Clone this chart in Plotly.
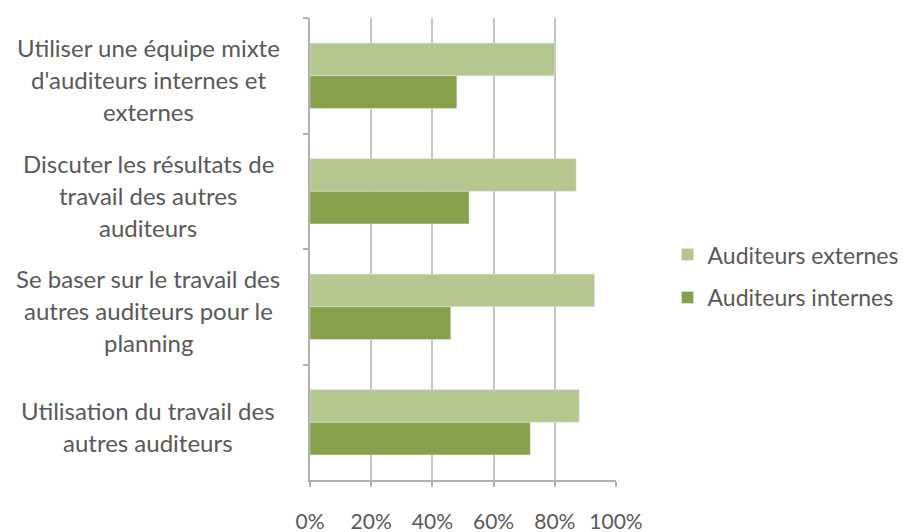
import plotly.graph_objects as go

categories = [
    "Utiliser une équipe mixte<br>d'auditeurs internes et<br>externes",
    "Discuter les résultats de<br>travail des autres<br>auditeurs",
    "Se baser sur le travail des<br>autres auditeurs pour le<br>planning",
    "Utilisation du travail des<br>autres auditeurs",
]
externes = [0.80, 0.87, 0.93, 0.88]
internes = [0.48, 0.52, 0.46, 0.72]
x_ticks = [0, 0.2, 0.4, 0.6, 0.8, 1.0]
x_ticktext = ["0%", "20%", "40%", "60%", "80%", "100%"]

FONT = "Lato"
TXT = "#595959"
FS = 24

fig = go.Figure()
fig.add_trace(go.Bar(y=categories, x=externes, orientation="h",
                     name="Auditeurs externes", marker_color="#b3c78f",
                     legendgroup="ext"))
fig.add_trace(go.Bar(y=categories, x=internes, orientation="h",
                     name="Auditeurs internes", marker_color="#87a04a",
                     legendgroup="int"))

# category labels: centered, one annotation per line for Excel-like spacing
line_h = 32
for cat in categories:
    lines = cat.split("<br>")
    n = len(lines)
    for i, ln in enumerate(lines):
        fig.add_annotation(
            x=-0.529, xref="paper", y=cat, yref="y",
            text=ln, showarrow=False, xanchor="center", yanchor="middle",
            yshift=((n - 1) / 2 - i) * line_h - 4,
            font=dict(family=FONT, size=FS, color=TXT),
        )

fig.update_layout(
    width=911, height=532,
    margin=dict(l=302, r=303, t=10, b=60),
    paper_bgcolor="white", plot_bgcolor="white",
    barmode="group", bargap=0.435, bargroupgap=0,
    font=dict(family=FONT, size=FS, color=TXT),
    showlegend=True,
    legend=dict(x=0.724, y=0.496, xref="container", yref="container",
                xanchor="left", yanchor="middle",
                font=dict(family=FONT, size=23, color=TXT),
                traceorder="grouped", tracegroupgap=10, itemwidth=30),
)
fig.update_xaxes(
    range=[0, 1.0], tickvals=x_ticks, ticktext=x_ticktext,
    tickfont=dict(family=FONT, size=21, color=TXT),
    showgrid=True, gridcolor="#c4c4c4", gridwidth=1.5,
    showline=True, linecolor="#b0b0b0", linewidth=1.5,
    ticks="outside", ticklen=5, tickcolor="#b0b0b0", tickwidth=1.5,
    ticklabelstandoff=17, zeroline=False, automargin=False,
)
fig.update_yaxes(
    autorange="reversed", showticklabels=False,
    showline=True, linecolor="#b0b0b0", linewidth=1.5,
    ticks="outside", ticklen=5, tickcolor="#b0b0b0", tickwidth=1.5,
    tickson="boundaries", showgrid=False, automargin=False,
)

fig.write_html("out.html")
